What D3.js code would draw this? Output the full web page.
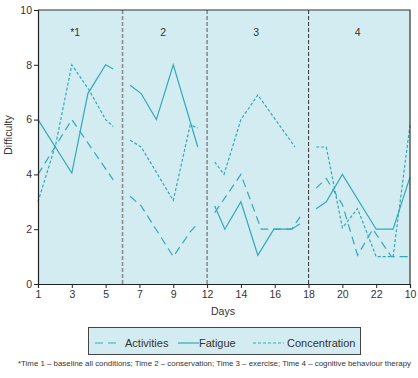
<!DOCTYPE html>
<html>
<head>
<meta charset="utf-8">
<script src="https://cdn.jsdelivr.net/npm/d3@7/dist/d3.min.js"></script>
<style>
  body { margin: 0; background: #fff; }
  text { font-family: "Liberation Sans", Arial, sans-serif; fill: #333; }
</style>
</head>
<body>
<div id="chart"></div>
<script>
// Chart size and plot margins
var width = 418;
var height = 378;
var margin = { top: 10, right: 8, bottom: 94, left: 38 };

// Tick labels along the x axis (one for every second point)
var dayLabels = ["1", "3", "5", "7", "9", "12", "14", "16", "18", "20", "22", "10"];
var tickIndex = [0, 2, 4, 6, 8, 10, 12, 14, 16, 18, 20, 22];

// Time period labels and where each period starts / ends
var periodNames = ["*1", "2", "3", "4"];
var periodCentres = [2.2, 7.4, 12.9, 18.9];
var dividers = [5, 10, 16];

// Difficulty values, one list of [position, value] per period
var activities = [
  [[0, 4.0], [2, 6.0], [4.45, 3.8]],
  [[5.45, 3.2], [6.1, 2.85], [8, 1.0], [9, 1.9], [9.45, 2.2]],
  [[10.45, 2.6], [12, 4.0], [13.2, 2.0], [15, 2.0], [15.5, 2.45]],
  [[16.45, 3.5], [17.05, 3.85], [18, 2.9], [18.9, 1.05], [19.8, 2.0], [20.9, 1.0], [22, 1.0]]
];
var fatigue = [
  [[0, 6.0], [2, 4.05], [2.95, 6.95], [4, 8.0], [4.45, 7.85]],
  [[5.45, 7.25], [6.1, 6.95], [7, 6.0], [8, 8.0], [9.45, 5.0]],
  [[10.45, 2.85], [11.05, 2.0], [12, 3.0], [13, 1.05], [13.95, 2.0], [15, 2.0], [15.5, 2.2]],
  [[16.45, 2.75], [17.05, 3.0], [18, 4.0], [20, 2.0], [21, 2.0], [22, 3.9]]
];
var concentration = [
  [[0, 3.0], [1.05, 5.1], [2, 8.0], [3, 7.1], [4, 6.0], [4.45, 5.75]],
  [[5.45, 5.25], [6.1, 5.0], [8, 3.05], [9, 5.8], [9.45, 5.7]],
  [[10.45, 4.45], [11, 4.0], [12, 6.0], [13, 6.9], [15.2, 5.0]],
  [[16.45, 5.0], [17.05, 5.0], [18, 2.05], [18.9, 2.75], [20, 1.0], [21, 1.0], [22, 5.8]]
];

var teal = "#33a8b8";
var panel = "#d3ecf1";

var svg = d3.select("#chart")
    .append("svg")
    .attr("width", width)
    .attr("height", height);

var x = d3.scaleLinear()
    .domain([0, 22])
    .range([margin.left, width - margin.right]);

var y = d3.scaleLinear()
    .domain([0, 10])
    .range([height - margin.bottom, margin.top]);

// Plot background
svg.append("rect")
    .attr("x", x(0))
    .attr("y", y(10))
    .attr("width", x(22) - x(0))
    .attr("height", y(0) - y(10))
    .attr("fill", panel);

// Period dividers (first two lighter)
svg.selectAll(".divider")
    .data(dividers)
    .enter().append("line")
    .attr("x1", function(d) { return x(d); })
    .attr("x2", function(d) { return x(d); })
    .attr("y1", y(10))
    .attr("y2", y(0))
    .attr("stroke", function(d, i) { return i === 2 ? "#444" : (i === 1 ? "#666" : "#8c8c8c"); })
    .attr("stroke-width", function(d, i) { return i === 0 ? 1.6 : 1.1; })
    .attr("stroke-dasharray", "4,2");

// Period labels
svg.selectAll(".period")
    .data(periodNames)
    .enter().append("text")
    .attr("x", function(d, i) { return x(periodCentres[i]); })
    .attr("y", y(9.05))
    .attr("text-anchor", "middle")
    .style("font-size", "10.5px")
    .text(function(d) { return d; });

// Lines
var line = d3.line()
    .x(function(d) { return x(d[0]); })
    .y(function(d) { return y(d[1]); });

function drawSeries(data, dash) {
    svg.append("g").selectAll("path")
        .data(data)
        .enter().append("path")
        .attr("d", line)
        .attr("fill", "none")
        .attr("stroke", teal)
        .attr("stroke-width", 1.2)
        .attr("stroke-dasharray", dash);
}
drawSeries(activities, "8,5");
drawSeries(fatigue, null);
drawSeries(concentration, "3,2");

// Frame on top and right
svg.append("path")
    .attr("d", "M" + x(0) + "," + y(10) + "H" + x(22) + "V" + y(0))
    .attr("fill", "none")
    .attr("stroke", "#333")
    .attr("stroke-width", 1.2);

// Axes
var xAxis = svg.append("g")
    .attr("transform", "translate(0," + y(0) + ")")
    .call(d3.axisBottom(x).tickValues(tickIndex).tickSize(4).tickPadding(3)
        .tickFormat(function(d, i) { return dayLabels[i]; }));

var yAxis = svg.append("g")
    .attr("transform", "translate(" + x(0) + ",0)")
    .call(d3.axisLeft(y).ticks(5).tickSize(4).tickPadding(2));

[xAxis, yAxis].forEach(function(g) {
    g.select(".domain").attr("stroke", "#222").attr("stroke-width", 1.2);
    g.selectAll(".tick line").attr("stroke", "#222");
    g.selectAll("text").style("font-size", "10.5px").attr("fill", "#333")
        .style("font-family", "'Liberation Sans', Arial, sans-serif");
});

// Axis titles
svg.append("text")
    .attr("x", 223)
    .attr("y", 315)
    .attr("text-anchor", "middle")
    .style("font-size", "10.5px")
    .text("Days");

svg.append("text")
    .attr("transform", "translate(12,135) rotate(-90)")
    .attr("text-anchor", "middle")
    .style("font-size", "10.5px")
    .text("Difficulty");

// Legend
var legend = svg.append("g");
legend.append("rect")
    .attr("x", 88.5)
    .attr("y", 327.5)
    .attr("width", 272)
    .attr("height", 27)
    .attr("fill", panel)
    .attr("stroke", "#444")
    .attr("stroke-width", 1);

var legendItems = [
    { name: "Activities", dash: "8,5", x1: 95, x2: 120, tx: 125 },
    { name: "Fatigue", dash: null, x1: 178, x2: 199, tx: 199 },
    { name: "Concentration", dash: "3,2", x1: 253, x2: 284, tx: 287 }
];
legendItems.forEach(function(d) {
    legend.append("line")
        .attr("x1", d.x1).attr("x2", d.x2)
        .attr("y1", 343).attr("y2", 343)
        .attr("stroke", teal)
        .attr("stroke-width", 1.2)
        .attr("stroke-dasharray", d.dash);
    legend.append("text")
        .attr("x", d.tx)
        .attr("y", 346.5)
        .style("font-size", "11px")
        .text(d.name);
});

// Footnote
svg.append("text")
    .attr("x", 18)
    .attr("y", 366)
    .attr("textLength", 393)
    .attr("lengthAdjust", "spacingAndGlyphs")
    .style("font-size", "7.6px")
    .text("*Time 1 \u2013 baseline all conditions; Time 2 \u2013 conservation; Time 3 \u2013 exercise; Time 4 \u2013 cognitive behaviour therapy");
</script>
</body>
</html>
